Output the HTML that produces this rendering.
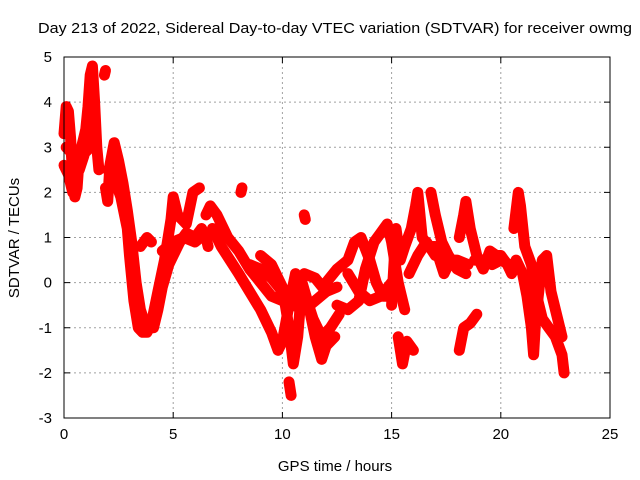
<!DOCTYPE html>
<html><head><meta charset="utf-8"><style>
body{margin:0;background:#fff}
svg{display:block;font-family:"Liberation Sans",sans-serif}
</style></head><body>
<svg id="chart" width="640" height="480">
<text x="38" y="33" font-size="15" textLength="594" lengthAdjust="spacingAndGlyphs">Day 213 of 2022, Sidereal Day-to-day VTEC variation (SDTVAR) for receiver owmg</text>
<text x="335" y="471" font-size="15" text-anchor="middle">GPS time / hours</text>
<text x="19" y="238" font-size="15" text-anchor="middle" transform="rotate(-90 19 238)">SDTVAR / TECUs</text>
<g id="grid"></g>
<g id="axes"></g>
<g id="marks"></g>
<rect x="64" y="57" width="546" height="361" fill="none" stroke="#000" stroke-width="1"/>
</svg>
<script>
const xTicks=[0,5,10,15,20,25];
const yTicks=[-3,-2,-1,0,1,2,3,4,5];
const arcT=[
[0,0.1,0.2,0.3,0.4,0.5,0.6,0.7,0.8,0.9,1.0,1.1,1.2,1.3,1.4,1.5,1.6],
[0,0.2,0.4,0.6,0.8,1.0,1.2,1.4],
[1.85,1.9],
[1.9,2.0,2.1,2.3,2.5,2.7,2.9,3.1,3.3,3.5,3.7,3.9,4.1,4.3,4.5,4.8,5.0,5.3,5.6,6.0,6.3,6.5,6.6],
[2.0,2.3,2.6,2.9,3.0,3.2,3.4,3.6,3.8,4.0,4.3,4.6,4.9,5.0,5.2,5.6,5.9,6.2],
[3.5,3.8,4.0],
[6.5,6.7,7.0,7.5,8.0,8.5,9.0,9.5,10.0,10.5,11.0,11.5,12.0],
[6.8,7.2,7.6,8.0,8.5,9.0,9.5,9.8,10.0,10.3,10.6,11.0,11.4,11.8,12.2,12.6],
[9.0,9.5,10.0,10.3,10.5,10.7,10.9,11.2,11.5,11.8,12.0,12.4],
[10.3,10.4],
[8.1,8.15],
[11.0,11.05],
[12.0,12.5,13.0,13.3,13.6,14.0,14.3,14.6,14.9],
[12.5,13.0,13.5,13.8,14.2,14.5,14.8,15.0,15.3,15.6],
[15.0,15.2,15.4,15.6,15.9,16.1,16.2,16.4,16.7,17.0,17.4,17.7],
[16.8,17.0,17.3,17.6,18.0,18.4],
[18.1,18.3,18.4,18.6,18.9,19.2,19.5,19.8,20.0,20.3,20.5],
[15.3,15.5,15.7,16.0],
[18.1,18.3,18.6,18.9],
[20.6,20.8,20.9,21.1,21.4,21.7,21.9,22.2,22.5,22.8,22.9],
[20.7,21.0,21.2,21.4,21.5,21.6,21.9,22.1,22.3,22.6,22.8],
[15.8,16.2,16.6,17.0,17.3,17.6,18.0,18.5],
[8.5,9.0,9.5,10.0,10.5,11.0,11.5,12.0,12.5],
[0.1,0.3,0.5,0.7,0.9,1.1,1.3],
[4.5,5.0,5.5,6.0,6.5],
[13.0,13.5,14.0,14.5,15.0],
[18.8,19.2,19.6,20.0,20.4]
];
const arcV=[
[3.3,3.9,3.8,3.2,2.3,1.9,2.1,2.8,3.0,3.2,3.4,3.9,4.6,4.8,4.0,3.0,2.5],
[2.6,2.4,2.0,2.4,2.8,2.9,3.0,3.1],
[4.6,4.7],
[2.1,1.8,2.6,3.1,2.7,2.2,1.6,0.9,0.0,-0.6,-0.9,-1.0,-1.0,-0.6,-0.1,0.4,0.6,0.9,1.1,1.0,1.2,1.0,0.8],
[2.5,2.3,1.9,1.2,0.6,-0.4,-1.0,-1.1,-1.1,-0.9,-0.2,0.5,1.4,1.9,1.5,1.3,2.0,2.1],
[0.8,1.0,0.9],
[1.5,1.7,1.5,1.0,0.7,0.3,0.0,-0.3,-0.4,-0.3,0.2,0.1,-0.2],
[1.2,0.8,0.5,0.2,-0.2,-0.6,-1.1,-1.5,-1.3,-0.5,0.2,-0.2,-0.8,-1.2,-1.0,-0.7],
[0.6,0.4,-0.1,-1.0,-1.8,-1.2,0.0,-0.5,-1.2,-1.7,-1.4,-1.2],
[-2.2,-2.5],
[2.0,2.1],
[1.5,1.4],
[0.0,0.3,0.5,0.9,1.0,0.5,0.0,-0.3,-0.3],
[-0.5,-0.6,-0.4,0.3,0.9,1.1,1.3,0.9,0.0,-0.6],
[-0.5,1.2,0.5,0.8,1.2,1.7,2.0,1.0,0.8,0.8,0.2,0.5],
[2.0,1.5,0.9,0.6,0.3,0.2],
[1.0,1.5,1.8,1.2,0.6,0.3,0.7,0.6,0.6,0.4,0.2],
[-1.2,-1.8,-1.3,-1.5],
[-1.5,-1.0,-0.9,-0.7],
[1.2,2.0,1.7,0.8,0.4,-0.4,-0.8,-1.0,-1.2,-1.6,-2.0],
[0.5,0.2,-0.3,-1.0,-1.6,-0.8,0.5,0.6,-0.2,-0.8,-1.2],
[0.2,0.6,0.9,0.6,0.8,0.5,0.5,0.4],
[0.4,0.3,0.1,-0.2,-0.5,-0.6,-0.4,-0.2,-0.1],
[3.0,2.9,2.6,2.5,2.8,3.2,3.6],
[0.7,0.9,1.0,0.9,1.1],
[0.2,-0.2,-0.4,-0.3,0.0],
[0.5,0.5,0.4,0.5,0.4]
];
const NS="http://www.w3.org/2000/svg";
const X0=64,X1=610,Y0=418,Y1=57;
function xs(t){return X0+(t-0)/(25-0)*(X1-X0);}
function ys(v){return Y0-(v+3)/(5+3)*(Y0-Y1);}
const grid=document.getElementById('grid'),axes=document.getElementById('axes'),marks=document.getElementById('marks');
function mk(tag,attrs,parent){const e=document.createElementNS(NS,tag);for(const k in attrs)e.setAttribute(k,attrs[k]);parent.appendChild(e);return e;}
xTicks.forEach(t=>{
 const x=xs(t);
 if(t>0&&t<25){const g=mk('line',{x1:x,x2:x,y1:Y1,y2:Y0,stroke:'#a0a0a0','stroke-dasharray':'2,3'},grid);
 
 }
 mk('line',{x1:x,x2:x,y1:Y0,y2:Y0-6,stroke:'#000'},axes);
 mk('line',{x1:x,x2:x,y1:Y1,y2:Y1+6,stroke:'#000'},axes);
 const tx=mk('text',{x:x,y:Y0+21,'font-size':15,'text-anchor':'middle'},axes);
 tx.textContent=t;
 
 
});
yTicks.forEach(v=>{
 const y=ys(v);
 if(v>-3&&v<5){const g=mk('line',{x1:X0,x2:X1,y1:y,y2:y,stroke:'#a0a0a0','stroke-dasharray':'2,3'},grid);
 
 }
 mk('line',{x1:X0,x2:X0+6,y1:y,y2:y,stroke:'#000'},axes);
 mk('line',{x1:X1,x2:X1-6,y1:y,y2:y,stroke:'#000'},axes);
 const tx=mk('text',{x:X0-12,y:y+5,'font-size':15,'text-anchor':'end'},axes);
 tx.textContent=v;
 
 
});
arcT.forEach((ts,i)=>{
 const vs=arcV[i];
 const pts=ts.map((t,j)=>xs(t).toFixed(1)+','+ys(vs[j]).toFixed(1)).join(' ');
 const pl=mk('polyline',{points:pts,fill:'none',stroke:'#ff0000','stroke-width':11,'stroke-linejoin':'round','stroke-linecap':'round'},marks);
 
 
 ts.forEach((t,j)=>{
  const x=xs(t),y=ys(vs[j]);
  const p=mk('path',{d:`M${x-5},${y}H${x+5}M${x},${y-5}V${y+5}`,stroke:'#ff0000','stroke-width':1.5},marks);
  
  
 });
});
</script>
</body></html>
